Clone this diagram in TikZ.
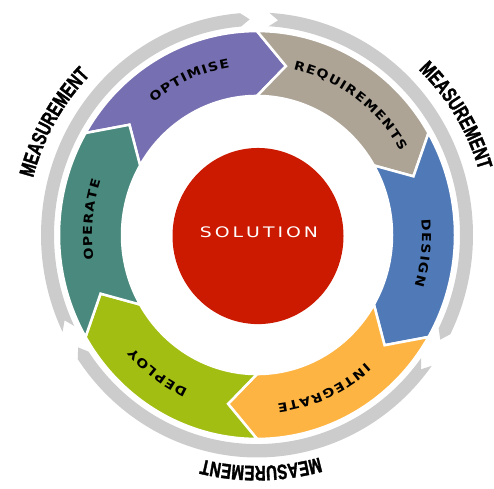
\documentclass[tikz,border=0pt]{standalone}
\usepackage{fontspec}
\usetikzlibrary{decorations.text}
\newfontfamily\labfam[FakeStretch=1.15]{DejaVu Sans Bold}
\newfontfamily\solfam[FakeStretch=1.3]{DejaVu Sans}
\newfontfamily\measfam[FakeStretch=0.72,FakeBold=1.5]{Liberation Sans Bold}
\newcommand\labfont{\labfam\fontsize{12.3}{12.3}\selectfont\kern1.2pt}
\newcommand\measfont{\measfam\fontsize{21}{21}\selectfont}
\newcommand\solgap{\hspace{3pt}}
\definecolor{cOpt}{HTML}{7670B2}
\definecolor{cReq}{HTML}{ADA496}
\definecolor{cDes}{HTML}{507AB7}
\definecolor{cInt}{HTML}{FDB442}
\definecolor{cDep}{HTML}{A3BE12}
\definecolor{cOpe}{HTML}{4A897D}
\definecolor{cRed}{HTML}{CC1A00}
\definecolor{cGray}{HTML}{CCCCCC}
\tikzset{
  segshape/.style={fill=#1, draw=white, line width=2.5pt, line join=miter},
  grayshape/.style={fill=cGray, draw=none},
  soltext/.style={text=white, font=\solfam\fontsize{14.5}{14.5}\selectfont, inner sep=0pt},
}
\newcommand\ringseg[2]{%
  \filldraw[segshape=#2] ({#1}:198) arc[start angle=#1, end angle=#1-60, radius=198]
    -- ({#1-70}:166.5) -- ({#1-60}:135) arc[start angle=#1-60, end angle=#1, radius=135]
    -- ({#1-10}:166.5) -- cycle;}
\newcommand\grayarc[2]{%
  \fill[grayshape] ({#1}:216) arc[start angle=#1, end angle=#2+2.5, radius=216]
    -- ({#2}:209.5) -- ({#2+2.5}:203) arc[start angle=#2+2.5, end angle=#1, radius=203]
    -- ({#1-2.5}:209.5) -- cycle;}
\newcommand\seglabel[2]{%
  \path[decorate, decoration={text along path, text align=center, text={|\labfont|#2}}]
    ({#1+50}:165) arc[start angle=#1+50, end angle=#1-50, radius=165];}
\newcommand\measlabel[1]{%
  \path[decorate, decoration={text along path, text align=center, text={|\measfont|MEASUREMENT}}]
    ({#1+40}:231) arc[start angle=#1+40, end angle=#1-40, radius=231];}
\begin{document}
\begin{tikzpicture}[x=1pt,y=1pt]
\useasboundingbox (0,0) rectangle (494,488);
\begin{scope}[shift={(257,253)}, yscale=1.03]
  % gray measurement arcs
  \grayarc{205.8}{92}
  \grayarc{86.7}{-29}
  \grayarc{-36}{-148.6}
  % ring segments
  \ringseg{150}{cOpt}
  \ringseg{90}{cReq}
  \ringseg{30}{cDes}
  \ringseg{-30}{cInt}
  \ringseg{-90}{cDep}
  \ringseg{-150}{cOpe}
  % centre
  \fill[cRed] (1,-1) circle[radius=85.5];
  % labels
  \seglabel{114}{OPTIMISE}
  \seglabel{54}{REQUIREMENTS}
  \seglabel{-6}{DESIGN}
  \seglabel{-66}{INTEGRATE}
  \seglabel{-126}{DEPLOY}
  \seglabel{175}{OPERATE}
\end{scope}
\node[soltext] (sol) at (259,256) {S\solgap O\solgap L\solgap U\solgap T\solgap I\solgap O\solgap N};
\begin{scope}[shift={(257,253)}]
  \measlabel{151}
  \measlabel{31}
  \measlabel{-89}
\end{scope}
\end{tikzpicture}
\end{document}
